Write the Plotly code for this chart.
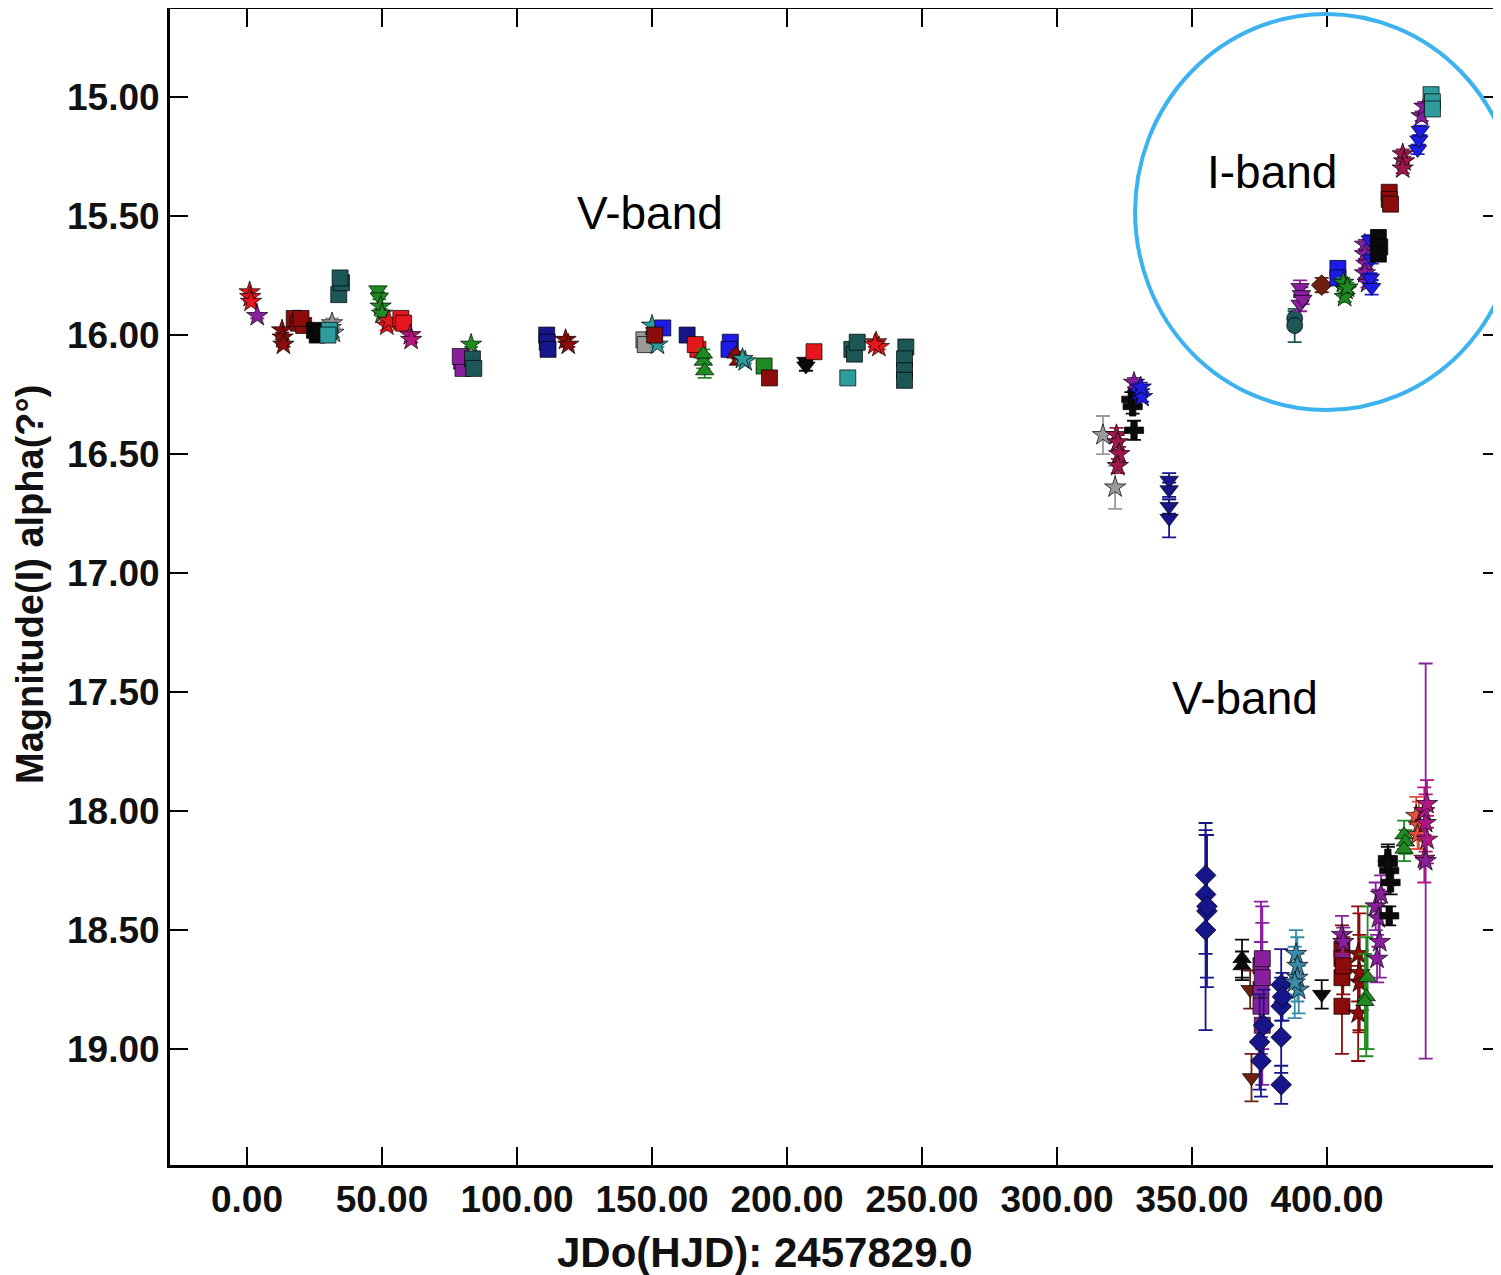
import plotly.graph_objects as go

# ---------------- data (days since HJD 2457829.0, magnitude, error, observer id) -------------
v_early_days = [1.0, 1.2, 1.5, 3.8, 13.0, 13.2, 13.5, 17.5, 19.0, 21.0, 20.0, 25.0, 26.0, 27.0,
                31.0, 32.0, 31.5, 30.5, 30.0, 34.0, 35.0, 34.5, 48.5, 49.0, 49.5, 50.0, 51.8, 52.5,
                57.0, 58.0, 60.5, 60.8, 83.0, 79.5, 80.0, 79.0, 83.5, 84.0, 111.0, 111.2, 111.5,
                118.0, 119.0, 147.0, 147.5, 150.0, 151.5, 152.0, 154.0, 151.0, 163.0, 167.0, 166.0,
                169.0, 169.5, 169.0, 179.0, 178.5, 181.0, 182.0, 184.5, 183.5, 191.5, 193.5, 207.0,
                207.0, 210.0, 222.5, 224.0, 225.0, 226.0, 233.0, 234.0, 232.5, 244.0, 243.5, 243.5, 243.5]
v_early_mag = [15.82, 15.84, 15.86, 15.92, 15.98, 16.01, 16.04, 15.93, 15.95, 15.96, 15.93, 15.98, 16.00, 15.99,
               15.97, 15.99, 15.95, 15.98, 16.00, 15.83, 15.78, 15.76, 15.81, 15.84, 15.88, 15.91, 15.96, 15.94,
               15.93, 15.95, 16.00, 16.02, 16.04, 16.11, 16.14, 16.09, 16.10, 16.14, 16.00, 16.03, 16.06,
               16.02, 16.04, 16.02, 16.04, 15.96, 16.00, 16.04, 15.97, 16.00, 16.00, 16.06, 16.04,
               16.11, 16.15, 16.08, 16.03, 16.06, 16.08, 16.11, 16.11, 16.10, 16.13, 16.18, 16.13,
               16.11, 16.07, 16.18, 16.06, 16.08, 16.03, 16.03, 16.05, 16.04, 16.05, 16.10, 16.15, 16.19]
v_early_err = [0.01, 0.01, 0.01, 0.01, 0.01, 0.01, 0.01, 0.01, 0.01, 0.01, 0.01, 0.02, 0.02, 0.02,
               0.02, 0.02, 0.02, 0.02, 0.02, 0.01, 0.01, 0.01, 0.01, 0.01, 0.01, 0.01, 0.02, 0.01,
               0.01, 0.01, 0.01, 0.01, 0.01, 0.01, 0.01, 0.01, 0.01, 0.01, 0.01, 0.01, 0.01,
               0.01, 0.01, 0.02, 0.02, 0.01, 0.01, 0.01, 0.01, 0.01, 0.01, 0.02, 0.02,
               0.03, 0.03, 0.02, 0.01, 0.01, 0.01, 0.01, 0.01, 0.01, 0.01, 0.01, 0.02,
               0.01, 0.01, 0.01, 0.01, 0.01, 0.01, 0.01, 0.01, 0.01, 0.01, 0.01, 0.01, 0.01]
v_early_obs = ["n01", "n01", "n01", "n02", "n03", "n03", "n03", "n04", "n04", "n04", "n04", "n05", "n05", "n05",
               "n06", "n06", "n06", "n07", "n07", "n08", "n08", "n08", "n09", "n09", "n10", "n10", "n11", "n11",
               "n12", "n12", "n13", "n13", "n14", "n15", "n15", "n15", "n16", "n16", "n17", "n17", "n17",
               "n18", "n18", "n19", "n19", "n20", "n20", "n20", "n21", "n22", "n23", "n24", "n24",
               "n25", "n25", "n25", "n26", "n26", "n27", "n27", "n28", "n28", "n29", "n30", "n31",
               "n31", "n32", "n33", "n34", "n34", "n34", "n35", "n35", "n35", "n36", "n36", "n36", "n36"]

v_mid_days = [317.0, 321.5, 322.0, 322.5, 323.0, 322.5, 327.5, 328.0, 328.5, 328.5, 330.5, 331.5, 331.0,
              341.5, 341.5, 341.5, 341.5]
v_mid_mag = [16.42, 16.64, 16.42, 16.45, 16.50, 16.55, 16.27, 16.30, 16.40, 16.20, 16.24, 16.26, 16.22,
             16.61, 16.65, 16.72, 16.77]
v_mid_err = [0.08, 0.09, 0.03, 0.03, 0.03, 0.03, 0.03, 0.03, 0.04, 0.02, 0.02, 0.02, 0.02,
             0.03, 0.03, 0.03, 0.08]
v_mid_obs = ["n37", "n37", "n38", "n38", "n38", "n38", "n39", "n39", "n39", "n40", "n41", "n41", "n41",
             "n42", "n42", "n42", "n42"]

i_band_days = [388.0, 388.0, 390.0, 390.5, 390.0, 391.0, 398.0, 404.0, 404.0, 406.0, 407.0, 406.5, 407.5,
               414.0, 414.0, 414.5, 414.0, 415.0, 416.0, 416.5, 416.0, 416.5, 419.0, 419.5, 419.0,
               423.0, 423.0, 423.5, 428.0, 428.5, 428.0, 433.5, 434.0, 434.5, 435.0, 436.0,
               438.5, 439.0, 439.0]
i_band_mag = [15.93, 15.96, 15.80, 15.83, 15.87, 15.85, 15.79, 15.72, 15.76, 15.78, 15.81, 15.84, 15.80,
              15.62, 15.66, 15.70, 15.74, 15.78, 15.60, 15.68, 15.76, 15.80, 15.59, 15.63, 15.66,
              15.40, 15.43, 15.45, 15.24, 15.27, 15.30, 15.22, 15.18, 15.14, 15.08, 15.04,
              14.99, 15.02, 15.05]
i_band_err = [0.03, 0.07, 0.03, 0.03, 0.03, 0.02, 0.03, 0.03, 0.02, 0.02, 0.02, 0.02, 0.02,
              0.02, 0.02, 0.02, 0.02, 0.02, 0.02, 0.02, 0.02, 0.03, 0.03, 0.02, 0.02,
              0.02, 0.02, 0.02, 0.02, 0.02, 0.02, 0.02, 0.02, 0.02, 0.02, 0.02,
              0.02, 0.02, 0.02]
i_band_obs = ["n43", "n43", "n44", "n44", "n44", "n44", "n45", "n46", "n46", "n47", "n47", "n47", "n47",
              "n48", "n48", "n48", "n48", "n48", "n49", "n49", "n49", "n49", "n50", "n50", "n50",
              "n51", "n51", "n51", "n52", "n52", "n52", "n53", "n53", "n53", "n54", "n54",
              "n55", "n55", "n55"]

v_late_days = [355.0, 355.5, 355.0, 355.5, 355.0, 368.5, 368.5, 371.5, 372.0,
               375.5, 376.0, 375.5, 376.0, 375.5, 376.0, 375.0, 375.5, 376.5,
               383.0, 383.0, 383.0, 383.0, 383.5, 388.5, 389.0, 389.0, 389.5, 388.0, 398.0,
               405.5, 405.5, 405.5, 406.0, 405.5, 405.5, 406.0,
               411.5, 412.0, 411.5, 412.0, 414.5, 415.0, 414.0,
               418.0, 419.0, 419.5, 418.5, 420.0, 422.5, 423.0, 423.5, 423.0, 422.5,
               428.5, 429.0, 428.5, 433.0, 434.0, 433.5,
               436.0, 436.5, 437.0, 436.0, 437.0, 436.5]
v_late_mag = [18.35, 18.42, 18.50, 18.40, 18.27, 18.62, 18.65, 18.75, 19.12,
              18.65, 18.62, 18.82, 18.90, 18.75, 18.70, 18.97, 19.05, 18.90,
              18.73, 18.82, 18.95, 19.15, 18.78, 18.60, 18.65, 18.70, 18.75, 18.72, 18.77,
              18.58, 18.62, 18.70, 18.65, 18.82, 18.52, 18.55,
              18.60, 18.72, 18.85, 18.68, 18.78, 18.70, 18.80,
              18.40, 18.45, 18.55, 18.62, 18.35, 18.20, 18.25, 18.30, 18.44, 18.22,
              18.10, 18.13, 18.16, 18.02, 18.06, 18.10,
              18.00, 18.05, 18.12, 18.20, 17.97, 18.21]
v_late_err = [0.25, 0.32, 0.42, 0.30, 0.22, 0.08, 0.06, 0.08, 0.10,
              0.27, 0.15, 0.20, 0.25, 0.20, 0.30, 0.20, 0.15, 0.15,
              0.15, 0.12, 0.15, 0.08, 0.10, 0.10, 0.12, 0.10, 0.10, 0.15, 0.06,
              0.10, 0.08, 0.10, 0.12, 0.20, 0.08, 0.06,
              0.20, 0.20, 0.20, 0.25, 0.25, 0.30, 0.20,
              0.10, 0.12, 0.15, 0.10, 0.08, 0.05, 0.06, 0.05, 0.04, 0.08,
              0.06, 0.05, 0.05, 0.08, 0.10, 0.06,
              0.10, 0.12, 0.10, 0.10, 0.10, 0.83]
v_late_obs = ["n56", "n56", "n56", "n56", "n56", "n57", "n57", "n58", "n58",
              "n59", "n59", "n59", "n59", "n59", "n59", "n60", "n60", "n60",
              "n61", "n61", "n61", "n61", "n61", "n62", "n62", "n62", "n62", "n62", "n63",
              "n64", "n64", "n64", "n64", "n64", "n65", "n65",
              "n66", "n66", "n66", "n66", "n67", "n67", "n67",
              "n68", "n68", "n68", "n68", "n68", "n69", "n69", "n69", "n69", "n69",
              "n70", "n70", "n70", "n71", "n71", "n71",
              "n72", "n72", "n72", "n72", "n72", "n73"]

band_labels = ["V-band", "I-band", "V-band"]
x_tick_vals = [0, 50, 100, 150, 200, 250, 300, 350, 400]
y_tick_vals = [15.0, 15.5, 16.0, 16.5, 17.0, 17.5, 18.0, 18.5, 19.0]
x_title = "JDo(HJD): 2457829.0"
y_title = "Magnitude(I) alpha(?°)"

# ---------------- styles per observer id -------------
RED, DRED, PURP, GRN, BLK = "#e5161c", "#8c0c0c", "#8a1f9e", "#1f8a22", "#0a0a0a"
TEAL, DTEAL, GRAY, NAVY, BLUE = "#2e9c9c", "#1c5656", "#9a9a9a", "#16168a", "#1c1ce6"
MAG, CRIM, BRN, ORG, CADET = "#b8157e", "#a0174e", "#6e2010", "#e0503c", "#3a8aa8"
style = {
    "n01": (RED, "star"), "n02": (PURP, "star"), "n03": (DRED, "star"), "n04": (DRED, "square"),
    "n05": (BLK, "square"), "n06": (GRAY, "star"), "n07": (TEAL, "square"), "n08": (DTEAL, "square"),
    "n09": (GRN, "triangle-down"), "n10": (GRN, "star"), "n11": (RED, "star"), "n12": (RED, "square"),
    "n13": (MAG, "star"), "n14": (GRN, "star"), "n15": (PURP, "square"), "n16": (DTEAL, "square"),
    "n17": (NAVY, "square"), "n18": (DRED, "star"), "n19": (GRAY, "square"), "n20": (TEAL, "star"),
    "n21": (BLUE, "square"), "n22": (DRED, "square"), "n23": (NAVY, "square"), "n24": (RED, "square"),
    "n25": (GRN, "triangle-up"), "n26": (BLUE, "square"), "n27": (DRED, "triangle-up"), "n28": (TEAL, "star"),
    "n29": (GRN, "square"), "n30": (DRED, "square"), "n31": (BLK, "triangle-down"), "n32": (RED, "square"),
    "n33": (TEAL, "square"), "n34": (DTEAL, "square"), "n35": (RED, "star"), "n36": (DTEAL, "square"),
    "n37": (GRAY, "star"), "n38": (CRIM, "star"), "n39": (BLK, "cross"), "n40": (PURP, "star"),
    "n41": (BLUE, "star"), "n42": (NAVY, "triangle-down"),
    "n43": (DTEAL, "circle"), "n44": (PURP, "triangle-down"), "n45": (BRN, "diamond"), "n46": (BLUE, "square"),
    "n47": (GRN, "star"), "n48": (PURP, "star"), "n49": (BLUE, "triangle-down"), "n50": (BLK, "square"),
    "n51": (DRED, "square"), "n52": (CRIM, "star"), "n53": (BLUE, "triangle-down"), "n54": (PURP, "star"),
    "n55": (TEAL, "square"),
    "n56": (NAVY, "diamond"), "n57": (BLK, "triangle-up"), "n58": (BRN, "triangle-down"), "n59": (PURP, "square"),
    "n60": (NAVY, "diamond"), "n61": (NAVY, "diamond"), "n62": (CADET, "star"), "n63": (BLK, "triangle-down"),
    "n64": (DRED, "square"), "n65": (PURP, "star"), "n66": (DRED, "star"), "n67": (GRN, "triangle-up"),
    "n68": (PURP, "star"), "n69": (BLK, "cross"), "n70": (GRN, "triangle-up"), "n71": (ORG, "star"),
    "n72": (MAG, "star"), "n73": (PURP, "star"),
}

fig = go.Figure()

def add_set(days, mags, errs, obs):
    order = []
    for o in obs:
        if o not in order:
            order.append(o)
    for o in order:
        idx = [i for i, v in enumerate(obs) if v == o]
        color, sym = style[o]
        fig.add_trace(go.Scatter(
            x=[days[i] for i in idx], y=[mags[i] for i in idx], mode="markers",
            marker=dict(symbol=sym, size=16, color=color, line=dict(width=1, color="rgba(0,0,0,0.7)")),
            error_y=dict(type="data", array=[errs[i] for i in idx], color=color, thickness=1.8, width=7),
            showlegend=False, hoverinfo="x+y"))

add_set(v_early_days, v_early_mag, v_early_err, v_early_obs)
add_set(v_mid_days, v_mid_mag, v_mid_err, v_mid_obs)
add_set(i_band_days, i_band_mag, i_band_err, i_band_obs)
add_set(v_late_days, v_late_mag, v_late_err, v_late_obs)

FONT = "Liberation Sans, Arial, sans-serif"
axis_common = dict(showline=True, linecolor="black", linewidth=3, mirror="ticks", ticks="inside",
                   ticklen=18, tickwidth=2, tickcolor="black", showgrid=False, zeroline=False,
                   automargin=False,
                   tickfont=dict(family=FONT, size=37, color="#111", weight="bold"), tickformat=".2f")

# the page body adds an 8px offset, so the figure is sized to the visible area
W, H = 1493, 1267
ML, MT, MB = 162, 1, 110
fig.update_layout(
    width=W, height=H,
    margin=dict(l=ML, r=0, t=MT, b=MB),
    paper_bgcolor="white", plot_bgcolor="white",
    xaxis=dict(range=[-28.5, 464.4], tickvals=x_tick_vals, **axis_common),
    yaxis=dict(range=[19.487, 14.630], tickvals=y_tick_vals, **axis_common),
    font=dict(family=FONT),
)

plot_w = W - ML
plot_h = H - MT - MB
# axis titles
fig.add_annotation(xref="paper", yref="paper", x=(757 - ML) / plot_w, y=0, yshift=-87,
                   text=x_title, showarrow=False, yanchor="middle",
                   font=dict(family=FONT, size=42, color="#111", weight="bold"))
fig.add_annotation(xref="paper", yref="paper", x=0, xshift=-140, y=(plot_h - (577 - MT)) / plot_h,
                   text=y_title, showarrow=False, textangle=-90, xanchor="center", yanchor="middle",
                   font=dict(family=FONT, size=38, color="#111", weight="bold"))

# circle highlighting the I-band data
fig.add_shape(type="circle", xref="x", yref="y", x0=328.9, x1=470.4, y0=14.651, y1=16.315,
              line=dict(color="#3cb2ef", width=4))

label_pos = [(149.3, 15.487), (379.6, 15.315), (369.6, 17.525)]
for txt, (lx, ly) in zip(band_labels, label_pos):
    fig.add_annotation(x=lx, y=ly, text=txt, showarrow=False,
                       font=dict(family=FONT, size=46, color="black"))

fig.write_html("out.html")
